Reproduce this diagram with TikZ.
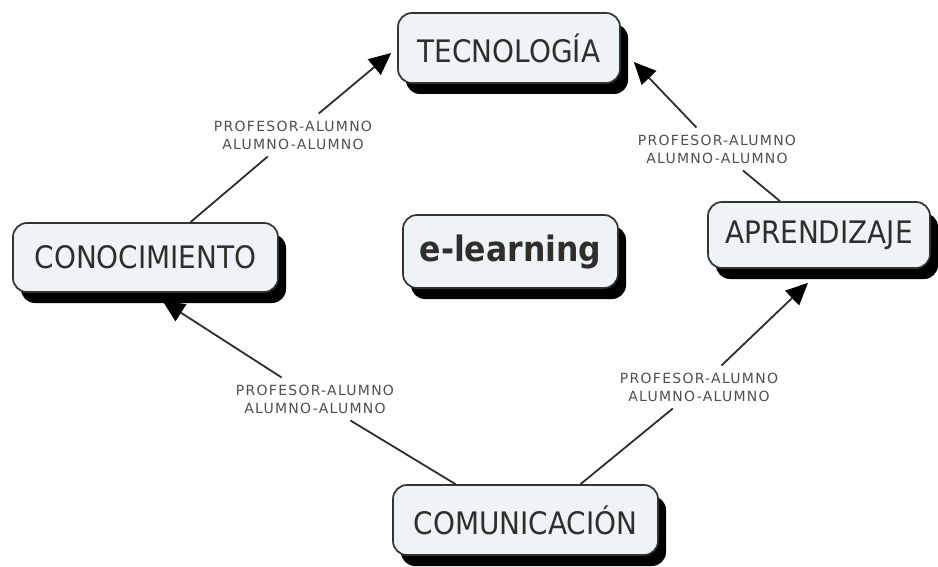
\documentclass[tikz,border=0pt]{standalone}
\usepackage{fontspec}
\setmainfont{DejaVu Sans}
\newfontfamily\boxfont{DejaVu Sans Condensed}
\newfontfamily\lblfont[LetterSpace=9]{DejaVu Sans}
\usetikzlibrary{shadows,arrows.meta,calc}
\definecolor{boxfill}{HTML}{EEF3F5}
\definecolor{boxline}{HTML}{333333}
\definecolor{boxtext}{HTML}{2E2E2E}
\definecolor{lbltext}{HTML}{4F4F4F}
\definecolor{conn}{HTML}{2E2E2E}
\tikzset{
  concept/.style={draw=boxline, line width=1.7pt, fill=boxfill, rounded corners=14pt,
    drop shadow={shadow xshift=8pt, shadow yshift=-11pt, opacity=1, fill=black},
    text=boxtext, inner sep=0pt, font=\boxfont\fontsize{31}{36}\selectfont},
  linklabel/.style={align=center, text=lbltext, inner sep=7pt,
    font=\lblfont\fontsize{14}{18}\selectfont},
  conline/.style={draw=conn, line width=1.8pt},
  conarrow/.style={conline, -{Triangle[length=22pt,width=20pt,color=black]}}
}
\begin{document}
\begin{tikzpicture}[x=1pt,y=-1pt]
\useasboundingbox (0,0) rectangle (938,567);
\node[concept, minimum width=222pt, minimum height=70pt] (tec) at (509,48) {TECNOLOGÍA};
\node[concept, minimum width=265pt, minimum height=69pt] (con) at (145.5,257.5) {CONOCIMIENTO};
\node[concept, minimum width=265pt, minimum height=70pt] (com) at (525.5,520) {COMUNICACIÓN};
\node[concept, minimum width=215pt, minimum height=73pt, font=\boxfont\bfseries\fontsize{35}{40}\selectfont] (ele) at (510.5,251.5) {e-learning};
\node[concept, minimum width=222pt, minimum height=66pt] (apr) at (819,235) {APRENDIZAJE};

\node[linklabel] (l1) at (293,135) {PROFESOR-ALUMNO\\ALUMNO-ALUMNO};
\node[linklabel] (l2) at (717,149) {PROFESOR-ALUMNO\\ALUMNO-ALUMNO};
\node[linklabel] (l3) at (315,399) {PROFESOR-ALUMNO\\ALUMNO-ALUMNO};
\node[linklabel] (l4) at (699,387) {PROFESOR-ALUMNO\\ALUMNO-ALUMNO};

\coordinate (s1) at ([xshift=45pt]con.north);
\coordinate (t1) at ([xshift=-6pt,yshift=-5pt]tec.west);
\coordinate (s2) at ([xshift=-39pt]apr.north);
\coordinate (t2) at ([xshift=13pt,yshift=-14pt]tec.east);
\coordinate (s3) at ([xshift=-70pt]com.north);
\coordinate (t3) at ([xshift=17pt,yshift=-8pt]con.south);
\coordinate (s4) at ([xshift=55pt]com.north);
\coordinate (t4) at ([xshift=-11pt,yshift=-14pt]apr.south);

\draw[conline] (s1) -- (l1);
\draw[conarrow] (l1) -- (t1);
\draw[conline] (s2) -- (l2);
\draw[conarrow] (l2) -- (t2);
\draw[conline] (s3) -- (l3);
\draw[conarrow] (l3) -- (t3);
\draw[conline] (s4) -- (l4);
\draw[conarrow] (l4) -- (t4);
\end{tikzpicture}
\end{document}
